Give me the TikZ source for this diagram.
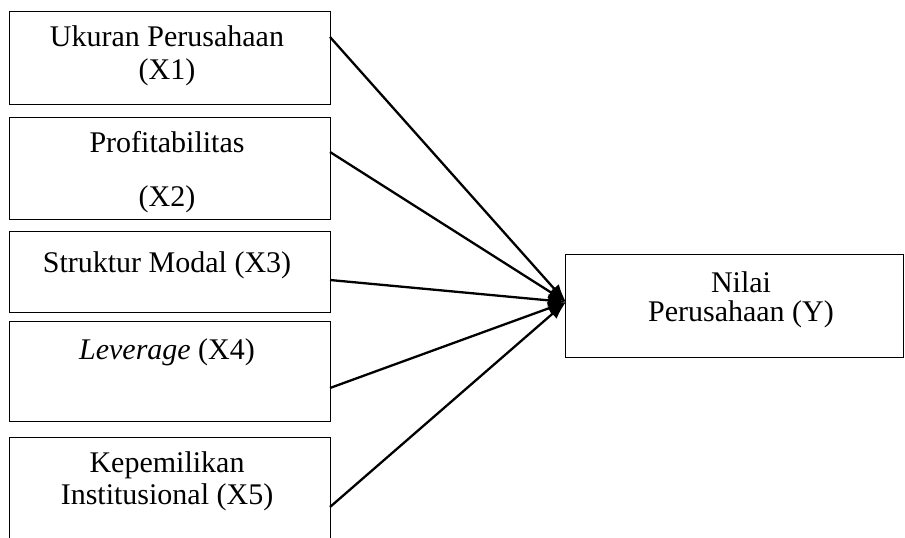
\documentclass[tikz,border=0pt]{standalone}
\usepackage{fontspec}
\setmainfont{Liberation Serif}
\usetikzlibrary{arrows.meta}
\begin{document}
\begin{tikzpicture}[x=1pt,y=-1pt,
  boxshape/.style={draw=black,line width=1.4pt,inner sep=0pt,anchor=north west},
  lbl/.style={font=\fontsize{30}{33}\selectfont,inner sep=0pt,anchor=base,align=center},
  conn/.style={line width=2.3pt,-{Latex[length=18pt,width=13pt]}}]
\clip (0,0) rectangle (905,538);
\fill[white] (0,0) rectangle (905,538);
\node[boxshape,minimum width=321pt,minimum height=93pt] (b1) at (9,11) {};
\node[boxshape,minimum width=321pt,minimum height=102pt] (b2) at (9,117) {};
\node[boxshape,minimum width=321pt,minimum height=81pt] (b3) at (9,231) {};
\node[boxshape,minimum width=321pt,minimum height=100pt] (b4) at (9,321) {};
\node[boxshape,minimum width=321pt,minimum height=110pt] (b5) at (9,437) {};
\node[boxshape,minimum width=338pt,minimum height=103pt] (y) at (565,254) {};
\node[lbl] (t1a) at (167,46) {Ukuran Perusahaan};
\node[lbl] (t1b) at (167,79) {(X1)};
\node[lbl] (t2a) at (167,152) {Profitabilitas};
\node[lbl] (t2b) at (167,206) {(X2)};
\node[lbl] (t3) at (167,272) {Struktur Modal (X3)};
\node[lbl] (t4) at (167,359) {\textit{Leverage} (X4)};
\node[lbl] (t5a) at (167,472) {Kepemilikan};
\node[lbl] (t5b) at (167,504) {Institusional (X5)};
\node[lbl] (ya) at (741,292) {Nilai};
\node[lbl] (yb) at (741,321) {Perusahaan (Y)};
\coordinate (tip) at (566,302);
\coordinate (s1) at (330,37);
\coordinate (s2) at (330,152);
\coordinate (s3) at (330,280);
\coordinate (s4) at (330,388);
\coordinate (s5) at (330,507);
\foreach \s in {s1,s2,s3,s4,s5} \draw[conn] (\s) -- (tip);
\end{tikzpicture}
\end{document}
